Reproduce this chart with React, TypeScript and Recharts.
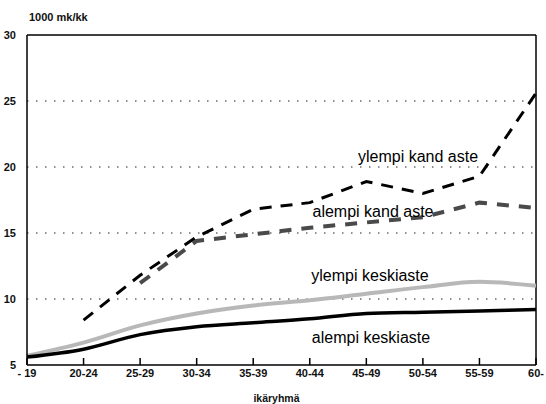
import { LineChart, Line, XAxis, YAxis, CartesianGrid, ReferenceLine } from "recharts"

// ikäryhmät ja palkat (1000 mk/kk), luettu kuvasta
const ageGroups = ["- 19", "20-24", "25-29", "30-34", "35-39", "40-44", "45-49", "50-54", "55-59", "60-"]
const alempiKeskiaste = [5.6, 6.2, 7.3, 7.9, 8.2, 8.5, 8.9, 9.0, 9.1, 9.2]
const ylempiKeskiaste = [5.7, 6.7, 8.0, 8.9, 9.5, 9.9, 10.4, 10.9, 11.3, 11.0]
const alempiKandAste = [null, null, 11.2, 14.4, 14.9, 15.4, 15.8, 16.2, 17.3, 16.9]
const ylempiKandAste = [null, 8.4, 11.8, 14.7, 16.8, 17.3, 18.9, 18.0, 19.3, 25.6]
const yTicks = [5, 10, 15, 20, 25, 30]
const gridValues = [10, 15, 20, 25]

const data = ageGroups.map((age, i) => ({
  age,
  alempiKeskiaste: alempiKeskiaste[i],
  ylempiKeskiaste: ylempiKeskiaste[i],
  alempiKandAste: alempiKandAste[i],
  ylempiKandAste: ylempiKandAste[i],
}))

const font = "Arial, 'Liberation Sans', Helvetica, sans-serif"
const tickStyle = { fontSize: 11, fontWeight: "bold", fill: "#111", fontFamily: font }

const seriesLabels = [
  { text: "ylempi kand aste", x: 418, y: 157 },
  { text: "alempi kand aste", x: 373, y: 212 },
  { text: "ylempi keskiaste", x: 370, y: 276 },
  { text: "alempi keskiaste", x: 371, y: 338 },
]

export default function App() {
  return (
    <div style={{ position: "absolute", left: 0, top: 0, width: 546, height: 404, background: "#fff", fontFamily: font }}>
      <LineChart width={546} height={404} data={data} margin={{ top: 35, right: 10, bottom: 0, left: 0 }}>
        <CartesianGrid vertical={false} horizontalValues={gridValues} stroke="#222" strokeDasharray="1.5 7.5" />
        <XAxis
          dataKey="age"
          interval={0}
          height={39}
          stroke="#000"
          strokeWidth={1.5}
          tickSize={-7}
          tickMargin={11}
          tick={tickStyle}
          label={{ value: "ikäryhmä", position: "insideBottom", offset: 2, dx: -5, fontSize: 10.5, fontWeight: "bold", fill: "#111", fontFamily: font }}
        />
        <YAxis
          type="number"
          domain={[5, 30]}
          ticks={yTicks}
          width={27}
          stroke="#000"
          strokeWidth={1.5}
          tickLine={false}
          tickMargin={5}
          tick={tickStyle}
        />
        <ReferenceLine y={30} stroke="#000" strokeWidth={1.5} />
        <ReferenceLine x="60-" stroke="#000" strokeWidth={1.5} />
        <Line type="monotone" dataKey="ylempiKeskiaste" stroke="#b8b8b8" strokeWidth={4} dot={false} isAnimationActive={false} />
        <Line type="monotone" dataKey="alempiKeskiaste" stroke="#000" strokeWidth={3.5} dot={false} isAnimationActive={false} />
        <Line type="linear" dataKey="alempiKandAste" stroke="#4a4a4a" strokeWidth={4} strokeDasharray="12 10" dot={false} isAnimationActive={false} />
        <Line type="linear" dataKey="ylempiKandAste" stroke="#000" strokeWidth={3} strokeDasharray="12 9" dot={false} isAnimationActive={false} />
      </LineChart>
      <div style={{ position: "absolute", left: 29, top: 11, fontSize: 11, fontWeight: "bold", color: "#111" }}>1000 mk/kk</div>
      {seriesLabels.map((l) => (
        <div
          key={l.text}
          style={{ position: "absolute", left: l.x, top: l.y, transform: "translate(-50%, -50%)", fontSize: 16, color: "#000", whiteSpace: "nowrap" }}
        >
          {l.text}
        </div>
      ))}
    </div>
  )
}
